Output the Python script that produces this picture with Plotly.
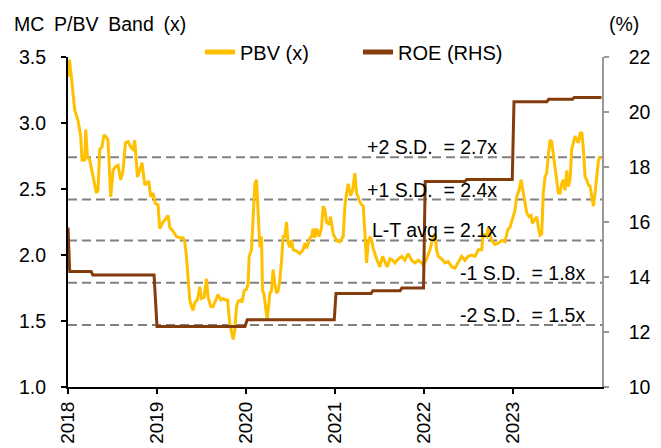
import pandas as pd
import plotly.graph_objects as go

# ---------------- data ----------------
# PBV (x): time in years since 2018-01-01, value
pbv_years_since_2018 = [
    0.000, 0.016, 0.038, 0.075, 0.112, 0.143, 0.157, 0.188, 0.199, 0.218,
    0.244, 0.281, 0.319, 0.337, 0.356, 0.382, 0.404, 0.431, 0.449, 0.480,
    0.506, 0.533, 0.562, 0.592, 0.618, 0.645, 0.674, 0.712, 0.730, 0.749,
    0.780, 0.806, 0.831, 0.862, 0.881, 0.907, 0.929, 0.955, 0.982, 1.011,
    1.030, 1.067, 1.106, 1.124, 1.143, 1.180, 1.218, 1.255, 1.292, 1.311,
    1.330, 1.348, 1.367, 1.387, 1.404, 1.424, 1.454, 1.480, 1.499, 1.528,
    1.555, 1.573, 1.603, 1.629, 1.656, 1.685, 1.716, 1.742, 1.769, 1.791,
    1.817, 1.836, 1.854, 1.873, 1.892, 1.910, 1.940, 1.955, 1.978, 2.004,
    2.022, 2.034, 2.061, 2.079, 2.098, 2.117, 2.135, 2.154, 2.173, 2.184,
    2.199, 2.221, 2.236, 2.252, 2.266, 2.285, 2.303, 2.322, 2.342, 2.360,
    2.379, 2.398, 2.416, 2.435, 2.454, 2.472, 2.491, 2.510, 2.528, 2.566,
    2.603, 2.640, 2.660, 2.679, 2.716, 2.735, 2.753, 2.772, 2.791, 2.820,
    2.847, 2.865, 2.884, 2.903, 2.933, 2.948, 2.978, 3.016, 3.053, 3.090,
    3.109, 3.128, 3.146, 3.173, 3.196, 3.221, 3.240, 3.258, 3.278, 3.297,
    3.315, 3.334, 3.353, 3.371, 3.390, 3.409, 3.427, 3.465, 3.502, 3.533,
    3.558, 3.584, 3.615, 3.645, 3.671, 3.708, 3.746, 3.783, 3.820, 3.858,
    3.896, 3.933, 3.971, 3.989, 4.027, 4.064, 4.101, 4.120, 4.139, 4.157,
    4.196, 4.233, 4.270, 4.308, 4.345, 4.382, 4.420, 4.457, 4.494, 4.533,
    4.570, 4.607, 4.645, 4.663, 4.701, 4.719, 4.757, 4.794, 4.831, 4.870,
    4.907, 4.937, 4.963, 4.989, 5.019, 5.038, 5.064, 5.087, 5.101, 5.124,
    5.151, 5.176, 5.199, 5.213, 5.244, 5.263, 5.281, 5.300, 5.319, 5.337,
    5.356, 5.375, 5.393, 5.412, 5.431, 5.449, 5.468, 5.488, 5.506, 5.525,
    5.544, 5.562, 5.581, 5.600, 5.618, 5.637, 5.656, 5.674, 5.693, 5.712,
    5.730, 5.749, 5.769, 5.787, 5.806, 5.825, 5.843, 5.862, 5.881, 5.899,
    5.918, 5.937, 5.955, 5.974,
]
pbv_values = [
    3.35, 3.48, 3.35, 3.10, 3.02, 2.90, 2.72, 2.72, 2.95, 2.745,
    2.72, 2.59, 2.47, 2.49, 2.80, 2.82, 2.91, 2.89, 2.87, 2.44,
    2.64, 2.67, 2.68, 2.57, 2.64, 2.85, 2.86, 2.81, 2.80, 2.87,
    2.59, 2.64, 2.70, 2.53, 2.54, 2.56, 2.44, 2.47, 2.39, 2.38,
    2.20, 2.25, 2.28, 2.30, 2.21, 2.18, 2.14, 2.13, 2.13, 2.10,
    1.99, 1.79, 1.66, 1.61, 1.58, 1.64, 1.66, 1.76, 1.67, 1.68,
    1.82, 1.68, 1.61, 1.61, 1.66, 1.70, 1.66, 1.67, 1.66, 1.66,
    1.48, 1.41, 1.36, 1.43, 1.61, 1.65, 1.66, 1.64, 1.73, 1.74,
    1.78, 1.99, 2.04, 2.29, 2.54, 2.57, 2.29, 2.06, 2.14, 1.73,
    1.71, 1.58, 1.51, 1.61, 1.71, 1.73, 1.89, 1.78, 1.71, 1.73,
    1.81, 1.96, 2.14, 2.14, 2.25, 2.09, 2.06, 2.11, 2.04, 2.03,
    2.01, 2.04, 2.09, 2.05, 2.13, 2.14, 2.20, 2.13, 2.20, 2.14,
    2.21, 2.37, 2.34, 2.25, 2.23, 2.29, 2.16, 2.11, 2.10, 2.14,
    2.37, 2.47, 2.54, 2.45, 2.49, 2.62, 2.47, 2.44, 2.40, 2.38,
    2.37, 2.16, 1.94, 2.09, 2.14, 2.11, 2.05, 1.97, 1.91, 1.99,
    1.95, 1.91, 1.97, 1.96, 1.94, 1.97, 1.99, 1.96, 2.01, 1.96,
    1.94, 1.96, 1.94, 1.92, 1.97, 2.04, 2.14, 2.16, 2.04, 1.99,
    1.97, 1.94, 1.95, 1.91, 1.90, 1.95, 1.99, 1.96, 1.99, 2.00,
    1.99, 2.04, 2.04, 2.16, 2.14, 2.21, 2.11, 2.08, 2.09, 2.11,
    2.10, 2.19, 2.21, 2.27, 2.34, 2.44, 2.49, 2.57, 2.52, 2.42,
    2.32, 2.29, 2.30, 2.24, 2.27, 2.29, 2.21, 2.15, 2.16, 2.47,
    2.59, 2.62, 2.75, 2.87, 2.86, 2.77, 2.69, 2.57, 2.47, 2.47,
    2.54, 2.57, 2.49, 2.64, 2.52, 2.57, 2.80, 2.85, 2.90, 2.87,
    2.85, 2.92, 2.93, 2.80, 2.59, 2.57, 2.53, 2.52, 2.44, 2.37,
    2.47, 2.57, 2.71, 2.75,
]

# ROE (RHS), %
roe_dates = [
    "2018-01-01", "2018-01-08", "2018-04-06", "2018-04-13", "2018-12-20",
    "2019-01-01", "2019-12-28", "2020-01-06", "2020-12-28", "2021-01-04",
    "2021-05-28", "2021-06-04", "2021-09-24", "2021-10-01", "2021-12-29",
    "2022-01-05", "2022-06-17", "2022-06-24", "2022-12-28", "2023-01-04",
    "2023-05-19", "2023-05-26", "2023-09-01", "2023-09-08", "2023-12-29",
]
roe_values = [
    15.8, 14.2, 14.2, 14.07, 14.07,
    12.2, 12.2, 12.45, 12.45, 13.4,
    13.4, 13.5, 13.5, 13.6, 13.6,
    17.47, 17.47, 17.55, 17.55, 20.37,
    20.37, 20.46, 20.46, 20.53, 20.53,
]

# P/BV band levels
band_values = [2.74, 2.42, 2.11, 1.79, 1.47]
band_labels = [
    "+2 S.D.\u00a0\u00a0= 2.7x",
    "+1 S.D.\u00a0\u00a0= 2.4x",
    "L-T avg = 2.1x",
    "-1 S.D.\u00a0\u00a0= 1.8x",
    "-2 S.D.\u00a0\u00a0= 1.5x",
]
band_label_x = ["2022-11-05", "2022-11-05", "2022-11-05", "2023-11-01", "2023-11-01"]

year_ticks = ["2018", "2019", "2020", "2021", "2022", "2023"]

# ---------------- figure ----------------
base = pd.Timestamp("2018-01-01")
pbv_dates = [base + pd.Timedelta(days=t * 365.25) for t in pbv_years_since_2018]

FONT = "Liberation Sans, Arial, sans-serif"
FS = 19.5

fig = go.Figure()
fig.add_trace(go.Scatter(
    x=pbv_dates, y=pbv_values, name="PBV (x)", mode="lines",
    line=dict(color="#FFC000", width=3),
))
fig.add_trace(go.Scatter(
    x=pd.to_datetime(roe_dates), y=roe_values, name="ROE (RHS)", mode="lines",
    line=dict(color="#843C0C", width=3), yaxis="y2",
))

for v, lab, lx in zip(band_values, band_labels, band_label_x):
    fig.add_shape(type="line", xref="x domain", x0=0, x1=1, yref="y", y0=v, y1=v,
                  line=dict(color="#808080", width=2, dash="9px,5px"), layer="below")
    fig.add_annotation(x=lx, y=v, xref="x", yref="y", text=lab, showarrow=False,
                       xanchor="right", yanchor="bottom", yshift=-3,
                       font=dict(family=FONT, size=FS, color="black"))

fig.add_annotation(xref="paper", yref="paper", x=-0.104, y=1.10, xanchor="left",
                   yanchor="middle", text="MC\u2002P/BV\u2002Band\u2002(x)",
                   showarrow=False, font=dict(family=FONT, size=FS, color="black"))
fig.add_annotation(xref="paper", yref="paper", x=1.010, y=1.10, xanchor="left",
                   yanchor="middle", text="(%)", showarrow=False,
                   font=dict(family=FONT, size=FS, color="black"))

fig.update_layout(
    width=661, height=448,
    margin=dict(l=68, r=59, t=57, b=61, autoexpand=False),
    paper_bgcolor="white", plot_bgcolor="white",
    font=dict(family=FONT, size=FS, color="black"),
    showlegend=True,
    legend=dict(orientation="h", xref="container", yref="container",
                x=200 / 661, y=1 - 52 / 448, xanchor="left", yanchor="middle",
                bgcolor="rgba(0,0,0,0)", font=dict(family=FONT, size=20),
                entrywidth=113, entrywidthmode="pixels", itemsizing="constant"),
    xaxis=dict(
        type="date", range=["2018-01-01", "2023-12-31"],
        tickvals=[y + "-01-01" for y in year_ticks], ticktext=year_ticks,
        tickangle=-90, showgrid=False, zeroline=False, automargin=False,
        showline=True, linecolor="black", linewidth=2,
        ticks="outside", ticklen=5, tickwidth=1.5, tickcolor="black",
        ticklabelstandoff=0, tickfont=dict(family=FONT, size=19),
    ),
    yaxis=dict(
        range=[1.0, 3.5], dtick=0.5, tickformat=".1f", automargin=False,
        showgrid=False, zeroline=False,
        showline=True, linecolor="black", linewidth=2,
        ticks="outside", ticklen=5, tickwidth=1.5, tickcolor="black",
        ticklabelstandoff=11,
    ),
    yaxis2=dict(
        range=[10, 22], dtick=2, overlaying="y", side="right", automargin=False,
        showgrid=False, zeroline=False,
        showline=True, linecolor="#999999", linewidth=1.5,
        ticks="outside", ticklen=5, tickwidth=1.5, tickcolor="#999999",
        ticklabelstandoff=16,
    ),
)

fig.write_html(
    "out.html",
    config={"displayModeBar": False},
    post_script="document.body.style.margin='0';document.body.style.overflow='hidden';",
)
